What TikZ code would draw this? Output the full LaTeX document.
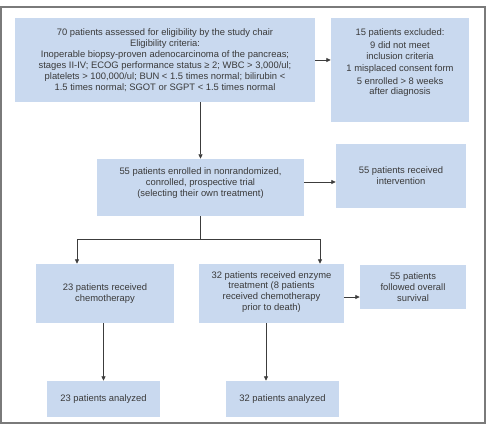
\documentclass[tikz,border=0pt]{standalone}
\usepackage{fontspec}
\setmainfont{Liberation Sans}
\usetikzlibrary{arrows.meta,calc}
\definecolor{boxfill}{HTML}{C9D9EF}
\definecolor{txt}{HTML}{3A3A3A}
\definecolor{lncol}{HTML}{3C3C3C}
\definecolor{framecol}{HTML}{7A7A7A}
\begin{document}
\begin{tikzpicture}[x=1pt,y=-1pt,
  box/.style={fill=boxfill, draw=none, inner sep=0pt, align=center, text=txt,
    font=\fontsize{9.4}{10.9}\selectfont},
  ln/.style={draw=lncol, line width=0.8pt},
  arr/.style={ln, -{Triangle[length=4.5pt,width=4pt]}}]
\useasboundingbox (0,0) rectangle (500,430);
\draw[framecol, line width=1.3pt] (1,7) rectangle (485,423);

\node[box, minimum width=300pt, minimum height=84pt] (box1) at (165,60)
 {70 patients assessed for eligibility by the study chair\\
  Eligibility criteria:\\
  Inoperable biopsy-proven adenocarcinoma of the pancreas;\\
  stages II-IV; ECOG performance status \char"2265\ 2; WBC > 3,000/ul;\\
  platelets > 100,000/ul; BUN < 1.5 times normal; bilirubin <\\
  1.5 times normal; SGOT or SGPT < 1.5 times normal};

\node[box, minimum width=138pt, minimum height=104pt] (excl) at (400,70)
 {15 patients excluded:\\[1.5pt]
  9 did not meet\\
  inclusion criteria\\[1.5pt]
  1 misplaced consent form\\[1.5pt]
  5 enrolled > 8 weeks\\
  after diagnosis\rule[-16pt]{0pt}{0pt}};

\node[box, minimum width=207pt, minimum height=57pt] (box2) at (200.5,187.5)
 {55 patients enrolled in nonrandomized,\\
  conrolled, prospective trial\\
  (selecting their own treatment)\rule[-11pt]{0pt}{0pt}};

\node[box, minimum width=130pt, minimum height=64pt] (interv) at (401,176)
 {55 patients received\\ intervention};

\node[box, minimum width=138pt, minimum height=59pt] (chemo) at (105,293.5)
 {23 patients received\\ chemotherapy};

\node[box, minimum width=145pt, minimum height=59pt] (enz) at (271.5,293.5)
 {32 patients received enzyme\\ treatment (8 patients\\ received chemotherapy\\ prior to death)\rule[-5pt]{0pt}{0pt}};

\node[box, minimum width=106pt, minimum height=44pt] (surv) at (413,287)
 {55 patients\\ followed overall\\ survival};

\node[box, minimum width=113pt, minimum height=36pt] (a23) at (103.5,399)
 {23 patients analyzed};

\node[box, minimum width=113pt, minimum height=36pt] (a32) at (282.5,399)
 {32 patients analyzed};

\coordinate (cl) at (77,239);
\coordinate (cr) at (320,239);
\coordinate (ex) at (266,0);

\draw[arr] (box1.east) -- (box1.east -| excl.west);
\draw[arr] (box1.south -| box2.north) -- (box2.north);
\draw[arr] ([yshift=5.5pt]box2.east) -- ([yshift=5.5pt]box2.east -| interv.west);
\draw[ln] (box2.south) -- (box2.south |- cl);
\draw[{Triangle[length=4.5pt,width=4pt]}-{Triangle[length=4.5pt,width=4pt]}, ln]
  (cl |- chemo.north) -- (cl) -- (cr) -- (cr |- enz.north);
\draw[arr] ([yshift=-3.5pt]enz.east) -- ([yshift=-3.5pt]enz.east -| surv.west);
\draw[arr] (a23.north |- chemo.south) -- (a23.north);
\draw[arr] (enz.south -| ex) -- (a32.north -| ex);
\end{tikzpicture}
\end{document}
